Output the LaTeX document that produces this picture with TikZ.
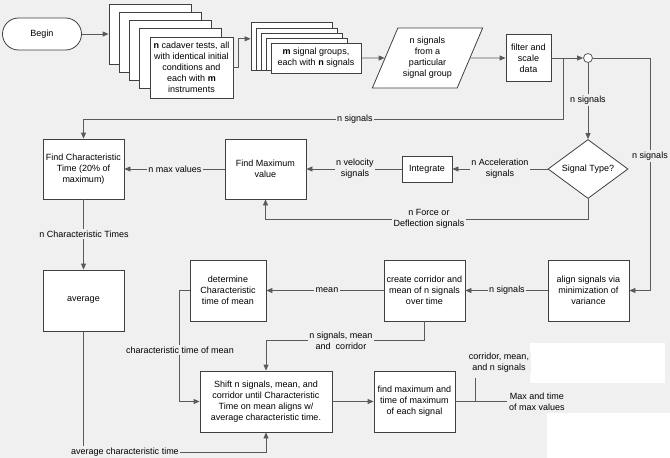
\documentclass[tikz,border=0pt]{standalone}
\usepackage{fontspec}
\setmainfont{Liberation Sans}
\usetikzlibrary{arrows.meta,positioning,shapes.geometric}
\definecolor{sheet}{HTML}{F0F0F0}
\definecolor{edge}{HTML}{404040}
\definecolor{wire}{HTML}{5A5A5A}
\tikzset{
  flow-box/.style={draw=edge, fill=white, line width=0.8pt, align=center,
    font=\fontsize{9}{11}\selectfont, inner sep=2pt},
  flow-stack/.style={draw=edge, fill=white, line width=0.8pt},
  flow-label/.style={fill=sheet, align=center, font=\fontsize{9}{11}\selectfont, inner sep=1.5pt},
  flow-line/.style={draw=wire, line width=0.8pt},
  flow-arrow/.style={flow-line, -{Triangle[length=6pt,width=5pt]}}
}

\begin{document}
\begin{tikzpicture}[x=1pt, y=-1pt]
  \useasboundingbox (0,0) rectangle (670,458);
  \fill[sheet] (0,0) rectangle (670,458);
  \fill[white] (530,343) rectangle (665,383);
  \fill[white] (547,413) rectangle (670,458);

  % Input chain
  \node[flow-box, rounded corners=16pt, minimum width=79pt, minimum height=32pt] (begin) at (42,34) {Begin};
  \foreach \i/\x/\y in {1/150/34, 2/160/42, 3/170/50, 4/180/58}
    \node[flow-stack, minimum width=82pt, minimum height=60pt] (cad\i) at (\x,\y) {};
  \node[flow-box, minimum width=83pt, minimum height=61pt] (cad) at (191.5,67.5)
    {\textbf{n} cadaver tests, all\\with identical initial\\conditions and\\each with \textbf{m}\\instruments};
  \foreach \i/\x/\y/\h in {1/291.5/46/48, 2/296.5/49/42, 3/301.5/51.5/37, 4/306.5/54/32}
    \node[flow-stack, minimum width=81pt, minimum height=\h pt] (grp\i) at (\x,\y) {};
  \node[flow-box, minimum width=90pt, minimum height=30pt] (grp) at (316,58)
    {\textbf{m} signal groups,\\each with \textbf{n} signals};
  \node[flow-box, trapezium, trapezium left angle=63, trapezium right angle=117,
    trapezium stretches=true, minimum width=111pt, minimum height=60pt, inner sep=0pt] (para) at (427.5,58)
    {n signals\\from a\\particular\\signal group};
  \node[flow-box, minimum width=45pt, minimum height=47pt] (filt) at (528.5,58) {filter and\\scale\\data};
  \node[draw=wire, fill=white, circle, minimum size=9pt, inner sep=0pt, line width=0.8pt] (junc) at (588,58) {};

  % Peak search
  \node[flow-box, diamond, aspect=1.36, minimum width=80pt, minimum height=59pt, inner sep=0pt] (sigtype) at (588,169) {Signal Type?};
  \node[flow-box, minimum width=50pt, minimum height=26pt] (integ) at (427,169) {Integrate};
  \node[flow-box, minimum width=81pt, minimum height=60pt] (fmax) at (265.5,169) {Find Maximum\\value};
  \node[flow-box, minimum width=81pt, minimum height=60pt] (fchar) at (83.5,169) {Find Characteristic\\Time (20\% of\\maximum)};

  % Corridor and shift
  \node[flow-box, minimum width=81pt, minimum height=61pt] (avg) at (83.5,300.5) {average};
  \node[flow-box, minimum width=76pt, minimum height=61pt] (det) at (228,290.5) {determine\\Characteristic\\time of mean};
  \node[flow-box, minimum width=81pt, minimum height=61pt] (create) at (424.5,290.5) {create corridor and\\mean of n signals\\over time};
  \node[flow-box, minimum width=81pt, minimum height=61pt] (align) at (588.5,290.5) {align signals via\\minimization of\\variance};
  \node[flow-box, minimum width=132pt, minimum height=61pt] (shift) at (266,401.5)
    {Shift n signals, mean, and\\corridor until Characteristic\\Time on mean aligns w/\\average characteristic time.};
  \node[flow-box, minimum width=81pt, minimum height=61pt] (fmx2) at (414.5,401.5) {find maximum and\\time of maximum\\of each signal};

  % Connectors
  \draw[flow-arrow] (begin) -- (cad1);
  \draw[flow-arrow] (cad.east) -- ++(5,0) |- (grp1.170);
  \draw[flow-arrow] (grp) -- (para);
  \draw[flow-arrow] (para) -- (filt);
  \draw[flow-arrow] (filt) -- (junc);
  \coordinate (tap) at (563,58);
  \draw[flow-arrow] (tap) -- ++(0,61) -| (fchar.north);
  \draw[flow-arrow] (junc) -- (sigtype);
  \draw[flow-arrow] (junc.east) -- ++(57.5,0) |- (align.east);
  \draw[flow-arrow] (sigtype) -- (integ);
  \draw[flow-arrow] (integ) -- (fmax);
  \draw[flow-arrow] (sigtype.south) -- ++(0,20) -| (fmax.south);
  \draw[flow-arrow] (fmax) -- (fchar);
  \draw[flow-arrow] (fchar) -- (avg);
  \draw[flow-arrow] (align) -- (create);
  \draw[flow-arrow] (create) -- (det);
  \draw[flow-arrow] (det.west) -- ++(-10,0) |- (shift.west);
  \draw[flow-arrow] (create.south) -- ++(0,19) -| (shift.north);
  \draw[flow-arrow] (avg.south) -- ++(0,121) -| (shift.south);
  \draw[flow-arrow] (shift) -- (fmx2);
  \draw[flow-line] (fmx2.east) -- ++(52,0) coordinate (outend);
  \coordinate (tap2) at (475,401.5);
  \draw[flow-line] (tap2) -- ++(0,-23.5);

  % Connector labels
  \node[flow-label] at (355,119) {n signals};
  \node[flow-label] at (588,100) {n signals};
  \node[flow-label] at (650,156) {n signals};
  \node[flow-label] at (500,168.5) {n Acceleration\\signals};
  \node[flow-label] at (355,168.5) {n velocity\\signals};
  \node[flow-label] at (429,219) {n Force or\\Deflection signals};
  \node[flow-label] at (175,169) {n max values};
  \node[flow-label] at (84,234) {n Characteristic Times};
  \node[flow-label] at (327,290.5) {mean};
  \node[flow-label] at (507,290.5) {n signals};
  \node[flow-label] at (180,350) {characteristic time of mean};
  \node[flow-label] at (341,341) {n signals, mean\\and\ \ corridor};
  \node[flow-label] at (125,452) {average characteristic time};
  \node[flow-label, anchor=west] at (outend) {Max and time\\of max values};
  \node[flow-label] at (499,363) {corridor, mean,\\and n signals};
\end{tikzpicture}
\end{document}
